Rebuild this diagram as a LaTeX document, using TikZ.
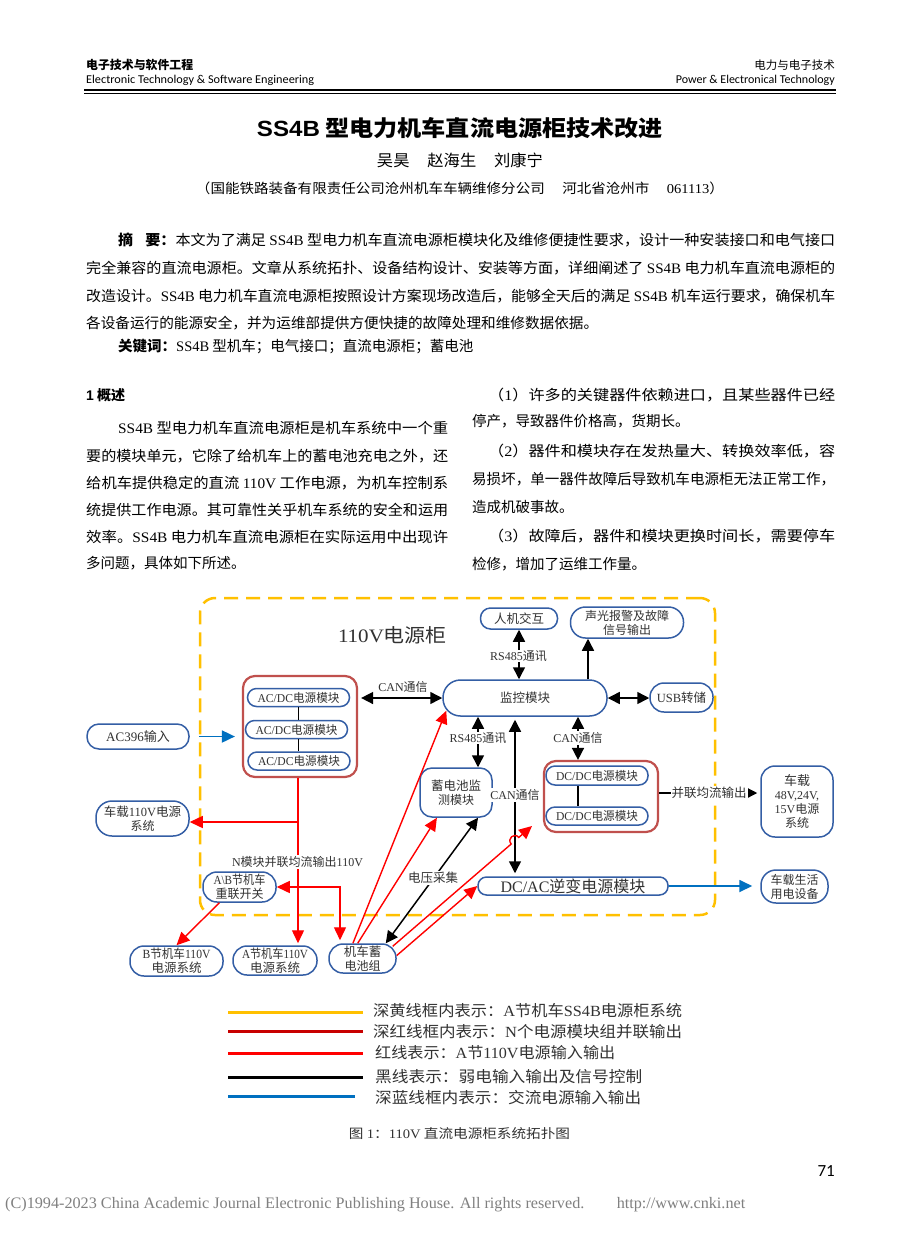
\documentclass[tikz,border=0pt]{standalone}
\usepackage{fontspec}
\usepackage{graphicx}
\setmainfont{Noto Sans CJK SC}
\newfontfamily\ser{Liberation Serif}
\newfontfamily\hsans{Carlito}
\newfontfamily\asans{Liberation Sans}
\usetikzlibrary{arrows.meta,calc}
\newcommand\fsz[2]{\fontsize{#1}{#2}\selectfont}
\newcommand\fitw[2]{\resizebox{#1pt}{\height}{#2}}
\newcommand\lsr[1]{{\ser #1}}
\definecolor{pblue}{RGB}{52,94,165}
\definecolor{dkred}{RGB}{192,80,77}
\definecolor{yel}{RGB}{255,192,0}
\definecolor{barrow}{RGB}{0,112,192}
\definecolor{dtext}{RGB}{50,50,50}
\definecolor{lgred}{RGB}{200,0,0}
\begin{document}
\begin{tikzpicture}[x=1pt,y=-1pt,
  txt/.style={anchor=west,inner sep=0pt},
  pill/.style={draw=pblue,line width=1.5pt,fill=white,rounded corners=#1,inner sep=0pt,align=center,text=dtext,font=\fsz{12}{14}},
  pill/.default=9pt,
  grp/.style={draw=dkred,line width=2.2pt,rounded corners=12pt,inner sep=0pt},
  frame/.style={draw=yel,line width=2.5pt,dash pattern=on 14pt off 8pt,rounded corners=15pt,inner sep=0pt},
  lbl/.style={fill=white,inner sep=1pt,text=dtext,font=\fsz{12}{14}},
  lgd/.style={anchor=west,inner sep=0pt,text=dtext,font=\fsz{15.5}{16}},
  ab/.style={line width=1.5pt,-{Triangle[length=12pt,width=12pt]}},
  abb/.style={line width=1.5pt,{Triangle[length=12pt,width=12pt]}-{Triangle[length=12pt,width=12pt]}},
  rar/.style={red,line width=1.4pt,-{Triangle[length=13pt,width=12pt]}},
  rarb/.style={red,line width=1.4pt,{Triangle[length=13pt,width=12pt]}-{Triangle[length=13pt,width=12pt]}},
  bar/.style={barrow,line width=1.8pt,-{Triangle[length=13pt,width=12pt]}}
]
\useasboundingbox (0,0) rectangle (920,1240);
\fill[white] (0,0) rectangle (920,1240);

% ---------- header ----------
\node[txt] (h1) at (86,65) {\fitw{107}{\fsz{12}{13}\bfseries 电子技术与软件工程}};
\node[txt] (h2) at (86,80.5) {\fitw{228}{\hsans\fsz{12}{13}Electronic Technology \& Software Engineering}};
\node[inner sep=0pt,anchor=east] (h3) at (835,65) {\fsz{11.5}{13}电力与电子技术};
\node[inner sep=0pt,anchor=east] (h4) at (835,80.5) {\fitw{159}{\hsans\fsz{12}{13}Power \& Electronical Technology}};
\draw[line width=1.6pt] (84,90) -- (836,90);
\draw[line width=0.7pt] (84,93.5) -- (836,93.5);

\node[inner sep=0pt] (title) at (460,128) {\fitw{406}{\fsz{22}{24}{\asans\bfseries SS4B} \bfseries 型电力机车直流电源柜技术改进}};
\node[inner sep=0pt] (auth) at (460,160) {\fitw{166}{\fsz{16}{17}吴昊\hspace{1.1em}赵海生\hspace{1.1em}刘康宁}};
\node[inner sep=0pt] (affil) at (460,188) {\fitw{528}{\fsz{13.5}{15}（国能铁路装备有限责任公司沧州机车车辆维修分公司\hspace{1.2em}河北省沧州市\hspace{1.2em}\lsr{061113}）}};

% ---------- abstract ----------
\node[txt] (ab1) at (118,240) {\fitw{717}{\fsz{14.5}{16}{\bfseries 摘\hspace{0.8em}要：}本文为了满足 \lsr{SS4B} 型电力机车直流电源柜模块化及维修便捷性要求，设计一种安装接口和电气接口}};
\node[txt] (ab2) at (86,268) {\fitw{749}{\fsz{14.5}{16}完全兼容的直流电源柜。文章从系统拓扑、设备结构设计、安装等方面，详细阐述了 \lsr{SS4B} 电力机车直流电源柜的}};
\node[txt] (ab3) at (86,296) {\fitw{749}{\fsz{14.5}{16}改造设计。\lsr{SS4B} 电力机车直流电源柜按照设计方案现场改造后，能够全天后的满足 \lsr{SS4B} 机车运行要求，确保机车}};
\node[txt] (ab4) at (86,323) {\fitw{512}{\fsz{14.5}{16}各设备运行的能源安全，并为运维部提供方便快捷的故障处理和维修数据依据。}};
\node[txt] (kw) at (118,346) {\fsz{14.5}{16}{\bfseries 关键词：}\lsr{SS4B} 型机车；电气接口；直流电源柜；蓄电池};

% ---------- body left ----------
\node[txt] (sec) at (86,395) {\fsz{14}{16}\bfseries {\asans 1} 概述};
\node[txt] (p1) at (118,428) {\fitw{330}{\fsz{14.5}{16}\lsr{SS4B} 型电力机车直流电源柜是机车系统中一个重}};
\node[txt] (p2) at (86,456) {\fitw{362}{\fsz{14.5}{16}要的模块单元，它除了给机车上的蓄电池充电之外，还}};
\node[txt] (p3) at (86,483) {\fitw{362}{\fsz{14.5}{16}给机车提供稳定的直流 \lsr{110V} 工作电源，为机车控制系}};
\node[txt] (p4) at (86,510) {\fitw{362}{\fsz{14.5}{16}统提供工作电源。其可靠性关乎机车系统的安全和运用}};
\node[txt] (p5) at (86,537) {\fitw{362}{\fsz{14.5}{16}效率。\lsr{SS4B} 电力机车直流电源柜在实际运用中出现许}};
\node[txt] (p6) at (86,563) {\fsz{14.5}{16}多问题，具体如下所述。};

% ---------- body right ----------
\node[txt] (r1) at (488,395) {\fitw{347}{\fsz{14.5}{16}（\lsr{1}）许多的关键器件依赖进口，且某些器件已经}};
\node[txt] (r2) at (472,421) {\fsz{14.5}{16}停产，导致器件价格高，货期长。};
\node[txt] (r3) at (488,451) {\fitw{347}{\fsz{14.5}{16}（\lsr{2}）器件和模块存在发热量大、转换效率低，容}};
\node[txt] (r4) at (472,479) {\fitw{363}{\fsz{14.5}{16}易损坏，单一器件故障后导致机车电源柜无法正常工作，}};
\node[txt] (r5) at (472,507) {\fsz{14.5}{16}造成机破事故。};
\node[txt] (r6) at (488,536) {\fitw{347}{\fsz{14.5}{16}（\lsr{3}）故障后，器件和模块更换时间长，需要停车}};
\node[txt] (r7) at (472,564) {\fsz{14.5}{16}检修，增加了运维工作量。};

% ---------- diagram ----------
\node[frame,minimum width=515pt,minimum height=317pt] (frame) at (457.5,756.5) {};
\node[inner sep=0pt,text=dtext] (ttl) at (392.5,635) {\fitw{109}{\fsz{19}{20}\lsr{110V}电源柜}};

\node[grp,minimum width=114pt,minimum height=101pt] (acg) at (300,726.5) {};
\node[pill,minimum width=102pt,minimum height=18pt] (ac1) at (298.5,697.5) {\fitw{82}{\fsz{12}{14}\lsr{AC/DC}电源模块}};
\node[pill,minimum width=102pt,minimum height=18pt] (ac2) at (296.5,729.5) {\fitw{82}{\fsz{12}{14}\lsr{AC/DC}电源模块}};
\node[pill,minimum width=102pt,minimum height=18pt] (ac3) at (299,761) {\fitw{82}{\fsz{12}{14}\lsr{AC/DC}电源模块}};
\node[pill=12pt,minimum width=102pt,minimum height=25pt] (acin) at (138,736.5) {\fsz{13}{14}\lsr{AC396}输入};
\node[pill=10pt,minimum width=77pt,minimum height=21pt] (hmi) at (519,618.5) {\fsz{12.5}{14}人机交互};
\node[pill=15pt,minimum width=113pt,minimum height=31pt] (alarm) at (627,622.5) {\fsz{12}{13.5}声光报警及故障\\信号输出};
\node[pill=17.5pt,minimum width=164pt,minimum height=36pt] (mon) at (525,698) {\fsz{12.5}{14}监控模块};
\node[pill=14pt,minimum width=63pt,minimum height=29pt] (usb) at (681.5,697.5) {\fsz{12.5}{14}\lsr{USB}转储};
\node[pill=12pt,minimum width=72pt,minimum height=49pt] (batmon) at (456,792.5) {\fsz{12.5}{16}蓄电池监\\测模块};
\node[grp,minimum width=114pt,minimum height=71pt] (dcg) at (601,796.5) {};
\node[pill,minimum width=102pt,minimum height=19pt] (dc1) at (597,775.5) {\fitw{82}{\fsz{12}{14}\lsr{DC/DC}电源模块}};
\node[pill,minimum width=102pt,minimum height=18pt] (dc2) at (597,816) {\fitw{82}{\fsz{12}{14}\lsr{DC/DC}电源模块}};
\node[pill=14pt,minimum width=72pt,minimum height=71pt] (v48) at (797,801.5) {\fsz{13}{15}车载\\\lsr{48V,24V,}\\\lsr{15V}电源\\系统};
\node[pill=8.5pt,minimum width=190pt,minimum height=18pt] (dcac) at (573,886) {\fsz{16}{17}\lsr{DC/AC}逆变电源模块};
\node[pill=15pt,minimum width=67pt,minimum height=33pt] (life) at (794.5,886.5) {\fsz{12}{14.5}车载生活\\用电设备};
\node[pill=16pt,minimum width=93pt,minimum height=35pt] (v110) at (142.5,818.5) {\fsz{12.5}{16}车载\lsr{110V}电源\\系统};
\node[pill=14pt,minimum width=73pt,minimum height=30pt] (absw) at (239.5,887) {\fitw{52}{\fsz{12.5}{14}\lsr{A\textbackslash B}节机车}\\\fitw{48}{\fsz{12.5}{14}重联开关}};
\node[pill=14pt,minimum width=93pt,minimum height=30pt] (bsys) at (176.5,961) {\fitw{68}{\fsz{12.5}{14}\lsr{B}节机车\lsr{110V}}\\\fsz{12.5}{14}电源系统};
\node[pill=14pt,minimum width=84pt,minimum height=29pt] (asys) at (275,960.5) {\fitw{66}{\fsz{12.5}{14}\lsr{A}节机车\lsr{110V}}\\\fsz{12.5}{14}电源系统};
\node[pill=14pt,minimum width=67pt,minimum height=29pt] (bat) at (362.5,958.5) {\fsz{12.5}{14}机车蓄\\电池组};

% helper coordinates
\coordinate (xal) at (588,0);
\coordinate (xr485) at (478,0);
\coordinate (xcan2) at (515,0);
\coordinate (xcan3) at (578,0);
\coordinate (xred) at (298,0);
\coordinate (xsw) at (340,0);
\coordinate (j1) at (298,822);
\coordinate (hopA) at (511.2,844.0);
\coordinate (hopC1) at (506.6,838.7);
\coordinate (hopC2) at (514.2,832.1);
\coordinate (hopB) at (518.8,837.4);
\coordinate (hopend) at (532,826);

% black module links
\draw[line width=1.5pt] (ac1.south) -- (ac2.north -| ac1.south);
\draw[line width=1.5pt] (ac2.south -| ac1.south) -- (ac3.north -| ac1.south);
\draw[line width=1.5pt] (dc1.south -| xcan3) -- (dc2.north -| xcan3);

% black signal arrows
\draw[abb] (hmi.south) -- (mon.north -| hmi.south);
\draw[ab] (mon.north -| xal) -- (alarm.south -| xal);
\draw[abb] (mon.east) -- (usb.west |- mon.east);
\draw[abb,shorten <=3pt] (acg.east |- mon.west) -- (mon.west);
\draw[abb] (mon.south -| xr485) -- (batmon.north -| xr485);
\draw[abb,shorten <=3pt,shorten >=3pt] (mon.south -| xcan2) -- (dcac.north -| xcan2);
\draw[abb] (mon.south -| xcan3) -- (dcg.north -| xcan3);
\draw[ab,shorten >=3pt] (dcg.east |- 0,793) -- (v48.west |- 0,793);

% blue arrows
\draw[bar,shorten >=7pt] (frame.west |- acin.east) -- (acg.west |- acin.east);
\draw[bar,shorten >=8pt] (dcac.east) -- (life.west |- dcac.east);

% red power lines
\draw[rar,shorten >=2pt] (acg.south -| xred) -- (asys.north -| xred);
\draw[rar] (j1) -- (v110.east |- j1);
\draw[rarb,shorten >=3pt] (absw.east) -- (absw.east -| xsw) -- (bat.north -| xsw);
\draw[rar] ($(absw.south west)!0.23!(absw.south east)$) -- (bsys.north);
\draw[rar] ($(bat.north west)!0.36!(bat.north east)$) -- ($(mon.south west)+(4,-6)$);
\draw[rar] ($(bat.north west)!0.43!(bat.north east)$) -- ($(batmon.south west)!0.24!(batmon.south east)$);
\draw[abb] ($(bat.north west)!0.84!(bat.north east)$) -- ($(batmon.south west)!0.8!(batmon.south east)$);
\draw[rar] ($(bat.north east)+(-4,3)$) -- (hopA) .. controls (hopC1) and (hopC2) .. (hopB) -- (hopend);
\draw[rar] ($(bat.east)+(0,-3)$) -- (dcac.west);

% labels
\node[lbl] (lcan1) at (403,687) {\lsr{CAN}通信};
\node[lbl] (l485a) at (518.5,656) {\lsr{RS485}通讯};
\node[lbl] (l485b) at (478,738) {\lsr{RS485}通讯};
\node[lbl] (lcan3) at (578,738) {\lsr{CAN}通信};
\node[lbl] (lcan2) at (515,795) {\lsr{CAN}通信};
\node[lbl] (lpar) at (709,793) {\fsz{12.5}{14}并联均流输出};
\node[lbl] (lvolt) at (433,878) {\fsz{12.5}{14}电压采集};
\node[lbl] (lnmod) at (297.5,862) {\lsr{N}模块并联均流输出\lsr{110V}};

% ---------- legend ----------
\draw[yel,line width=3pt] (228,1012) -- (363,1012);
\draw[lgred,line width=3pt] (228,1031) -- (363,1031);
\draw[red,line width=3pt] (228,1053) -- (363,1053);
\draw[black,line width=3pt] (228,1077) -- (363,1077);
\draw[barrow,line width=3pt] (228,1096) -- (355,1096);
\node[lgd] (lg1) at (373,1011) {\fitw{309}{深黄线框内表示：\lsr{A}节机车\lsr{SS4B}电源柜系统}};
\node[lgd] (lg2) at (373,1032) {\fitw{309}{深红线框内表示：\lsr{N}个电源模块组并联输出}};
\node[lgd] (lg3) at (375,1053) {\fitw{240}{红线表示：\lsr{A}节\lsr{110V}电源输入输出}};
\node[lgd] (lg4) at (375,1077) {\fitw{267}{黑线表示：弱电输入输出及信号控制}};
\node[lgd] (lg5) at (375,1098) {\fitw{266}{深蓝线框内表示：交流电源输入输出}};
\node[inner sep=0pt,text=dtext] (cap) at (459.5,1134) {\fitw{221}{\fsz{13}{14}图 \lsr{1}：\lsr{110V} 直流电源柜系统拓扑图}};

% ---------- footer ----------
\node[inner sep=0pt,anchor=east] (pg) at (835,1171) {\hsans\fsz{17}{18}71};
\node[txt,text=gray] (copy) at (5,1205) {\fitw{740}{\ser\fsz{16}{17}(C)1994-2023 China Academic Journal Electronic Publishing House. All rights reserved.\hspace{2em}http://www.cnki.net}};
\end{tikzpicture}
\end{document}
